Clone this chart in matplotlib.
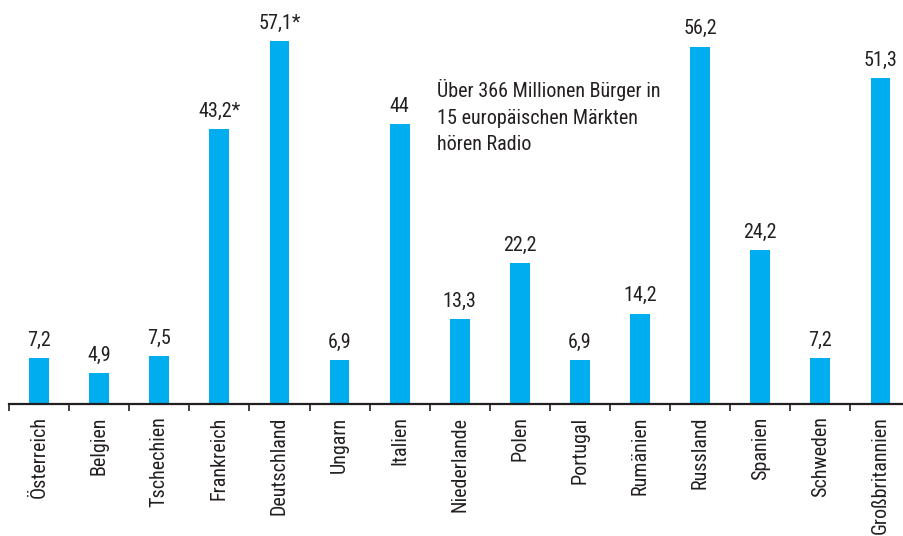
import matplotlib
matplotlib.use("Agg")
import matplotlib.pyplot as plt
from matplotlib import font_manager

countries = ["Österreich", "Belgien", "Tschechien", "Frankreich", "Deutschland", "Ungarn",
             "Italien", "Niederlande", "Polen", "Portugal", "Rumänien", "Russland",
             "Spanien", "Schweden", "Großbritannien"]
values = [7.2, 4.9, 7.5, 43.2, 57.1, 6.9, 44, 13.3, 22.2, 6.9, 14.2, 56.2, 24.2, 7.2, 51.3]
value_labels = ["7,2", "4,9", "7,5", "43,2*", "57,1*", "6,9", "44", "13,3", "22,2", "6,9",
                "14,2", "56,2", "24,2", "7,2", "51,3"]
note = "Über 366 Millionen Bürger in\n15 europäischen Märkten\nhören Radio"

names = {f.name for f in font_manager.fontManager.ttflist}
narrow = None
for cand in ["Liberation Sans Narrow", "Roboto Condensed", "Open Sans Condensed",
             "DejaVu Sans Condensed", "Noto Sans Condensed"]:
    if cand in names:
        narrow = cand
        break
if narrow is not None and narrow != "DejaVu Sans Condensed":
    fam, fs = narrow, 14.5
else:
    fam, fs = "Liberation Sans", 13
plt.rcParams['font.family'] = [fam, 'DejaVu Sans']

W, H = 904, 536
fig = plt.figure(figsize=(W / 100, H / 100), dpi=100)
left = 9 / W
width = 15 * 60.1 / W
bottom = (H - 404) / H
ppu = 6.357
ymax = 404 / ppu
ax = fig.add_axes([left, bottom, width, 404 / H])
ax.set_xlim(-0.5, 14.5)
ax.set_ylim(0, ymax)

color = "#00AEEF"
txt = "#231F20"
x = list(range(len(countries)))
ax.bar(x, values, width=0.33, color=color, zorder=2)
for xi, v, lab in zip(x, values, value_labels):
    ax.annotate(lab, (xi, v), xytext=(0, 6), textcoords="offset points",
                ha="center", va="bottom", fontsize=fs, color=txt)

for s in ["top", "right", "left"]:
    ax.spines[s].set_visible(False)
ax.spines["bottom"].set_color(txt)
ax.spines["bottom"].set_linewidth(1.6)
ax.set_yticks([])
ax.set_xticks([i - 0.5 for i in range(16)])
ax.set_xticklabels([])
ax.tick_params(axis="x", direction="out", length=5, width=1.2, color=txt)
ax.set_xticks(x, minor=True)
ax.set_xticklabels(countries, minor=True, rotation=90, fontsize=fs, color=txt,
                   va="top", ha="center")
ax.tick_params(axis="x", which="minor", length=0, pad=9)

fig.text(437 / W, 1 - 79 / H, note, ha="left", va="top", fontsize=fs, color=txt,
         linespacing=1.5)

fig.savefig("out.png", dpi=100)
